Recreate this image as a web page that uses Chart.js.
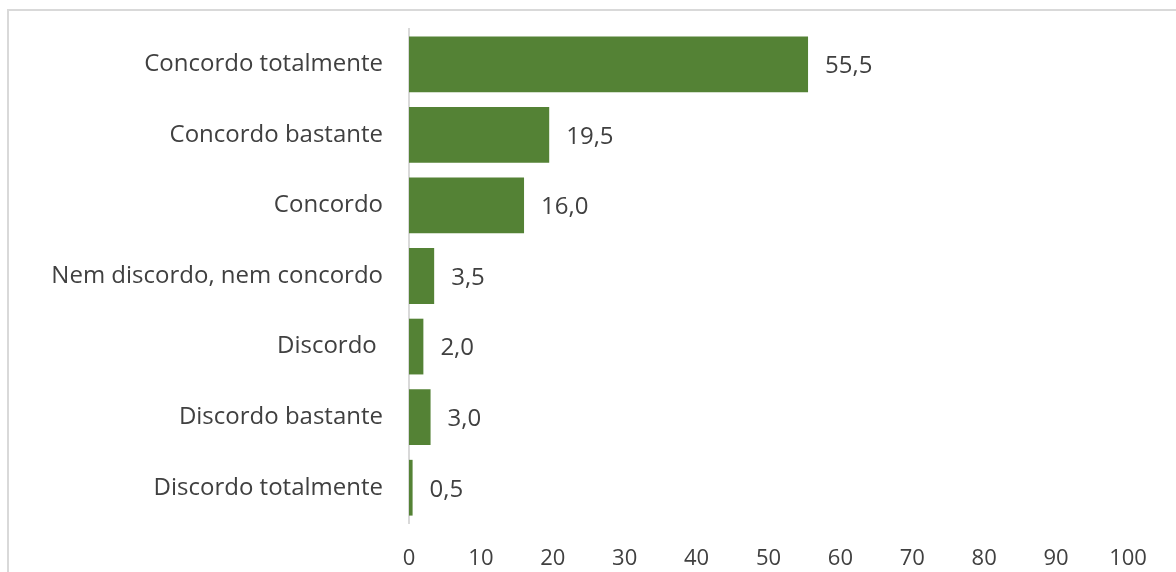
<!DOCTYPE html>
<html>
<head>
<meta charset="utf-8">
<script src="https://cdn.jsdelivr.net/npm/chart.js@4"></script>
<style>
  html, body { margin: 0; padding: 0; background: #fff; }
  #frame { position: absolute; left: 7px; top: 9px; width: 1200px; height: 600px; border: 2px solid #d9d9d9; }
  #wrap { position: absolute; left: 0; top: 0; width: 1176px; height: 572px; }
</style>
</head>
<body>
<div id="frame"></div>
<div id="wrap"><canvas id="myChart" width="1176" height="572"></canvas></div>
<script>
const categories = [
  "Concordo totalmente",
  "Concordo bastante",
  "Concordo",
  "Nem discordo, nem concordo",
  "Discordo ",
  "Discordo bastante",
  "Discordo totalmente"
];
const values = [55.5, 19.5, 16.0, 3.5, 2.0, 3.0, 0.5];
const xTicks = [0, 10, 20, 30, 40, 50, 60, 70, 80, 90, 100];

const textColor = "#404040";
const fontFamily = "'Open Sans', sans-serif";

// value label drawn just past the end of each bar
const barLabels = {
  id: "barLabels",
  afterDatasetsDraw(chart) {
    const ctx = chart.ctx;
    const meta = chart.getDatasetMeta(0);
    ctx.save();
    ctx.font = "24px " + fontFamily;
    ctx.fillStyle = textColor;
    ctx.textBaseline = "middle";
    ctx.textAlign = "left";
    meta.data.forEach((bar, i) => {
      const txt = values[i].toFixed(1).replace(".", ",");
      ctx.fillText(txt, bar.x + 17, bar.y + 2);
    });
    ctx.restore();
  }
};

var ctx = document.getElementById("myChart").getContext("2d");
var myChart = new Chart(ctx, {
  type: "bar",
  data: {
    labels: categories,
    datasets: [{
      data: values,
      backgroundColor: "#548235",
      borderWidth: 0,
      barPercentage: 0.79,
      categoryPercentage: 1
    }]
  },
  options: {
    indexAxis: "y",
    responsive: false,
    animation: false,
    layout: { padding: { top: 29, right: 48, left: 0, bottom: 0 } },
    plugins: { legend: { display: false }, tooltip: { enabled: false } },
    scales: {
      x: {
        min: 0,
        max: 100,
        afterBuildTicks(scale) { scale.ticks = xTicks.map(v => ({ value: v })); },
        afterFit(scale) { scale.height = 49; },
        grid: { display: false, drawTicks: false },
        border: { display: false },
        ticks: { color: textColor, padding: 23, font: { family: fontFamily, size: 22 } }
      },
      y: {
        afterFit(scale) {
          scale.width = 409;
          scale.paddingTop = 0;
          scale.paddingBottom = 0;
        },
        grid: { display: false, drawTicks: false },
        border: { display: true, color: "#d9d9d9", width: 2 },
        ticks: { color: textColor, padding: 26, font: { family: fontFamily, size: 24 } }
      }
    }
  },
  plugins: [barLabels]
});
</script>
</body>
</html>
